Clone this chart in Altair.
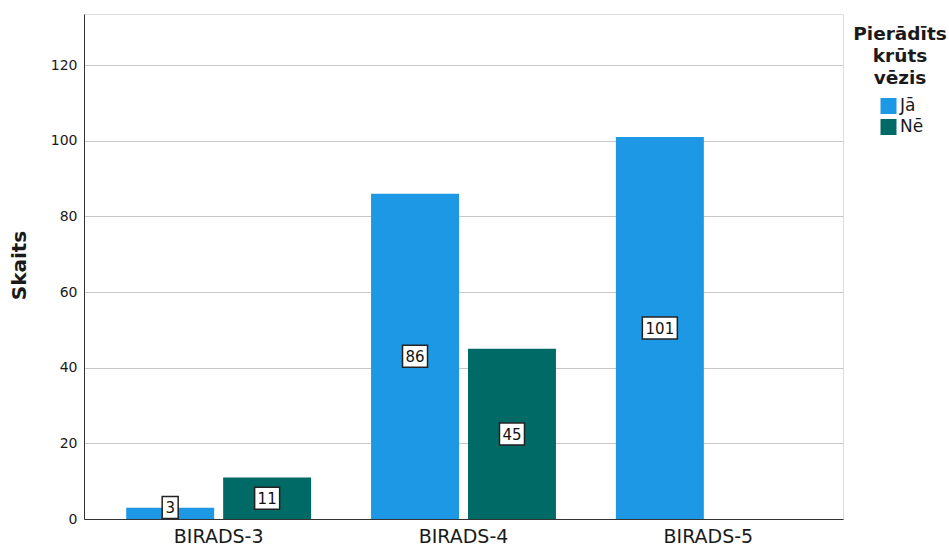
import altair as alt
import pandas as pd

# Counts of confirmed / not confirmed breast cancer by BI-RADS category
categories = ["BIRADS-3", "BIRADS-4", "BIRADS-5"]
confirmed_yes = [3, 86, 101]
confirmed_no = [11, 45, 0]
groups = ["Jā", "Nē"]
colors = ["#1D98E4", "#006A66"]
y_ticks = [0, 20, 40, 60, 80, 100, 120]

rows = []
for cat, yes, no in zip(categories, confirmed_yes, confirmed_no):
    rows.append({"kategorija": cat, "grupa": groups[0], "skaits": yes})
    rows.append({"kategorija": cat, "grupa": groups[1], "skaits": no})
df = pd.DataFrame(rows)

FONT = "DejaVu Sans"

x_enc = alt.X(
    "kategorija:N",
    sort=categories,
    scale=alt.Scale(paddingInner=0, paddingOuter=0.05),
    axis=alt.Axis(
        title=None, labelAngle=0, labelFontSize=19, labelPadding=8,
        ticks=False, domainColor="#333333", labelColor="#1a1a1a", labelFont=FONT,
    ),
)
xoff_enc = alt.XOffset(
    "grupa:N", sort=groups,
    scale=alt.Scale(paddingInner=0.0928, paddingOuter=0.309),
)
y_scale = alt.Scale(domain=[0, 133.5], nice=False)

bars = alt.Chart(df).mark_bar().encode(
    x=x_enc,
    xOffset=xoff_enc,
    y=alt.Y(
        "skaits:Q",
        scale=y_scale,
        axis=alt.Axis(
            title="Skaits", values=y_ticks, ticks=False, labelFontSize=14,
            labelPadding=7, labelColor="#1a1a1a", labelFont=FONT,
            gridColor="#c8c8c8", gridWidth=1, domainColor="#333333",
            titleFont=FONT, titleFontSize=20, titleFontWeight="bold",
            titleAngle=-90, titleX=-65, titleY=251, titleAlign="center",
            titleBaseline="middle", titleColor="#1a1a1a",
        ),
    ),
    color=alt.Color(
        "grupa:N", sort=groups,
        scale=alt.Scale(domain=groups, range=colors),
        legend=alt.Legend(
            title=["Pierādīts", "krūts", "vēzis"],
            orient="none", legendX=769, legendY=11,
            titleFont=FONT, titleFontSize=18.5, titleFontWeight="bold",
            titleLineHeight=22, titleAlign="center", titleAnchor="middle",
            titleColor="#1a1a1a", titlePadding=10,
            symbolType="square", symbolSize=256, symbolStrokeWidth=0,
            symbolOffset=3,
            labelFont=FONT, labelFontSize=17, labelColor="#1a1a1a",
            labelOffset=3, rowPadding=3,
        ),
    ),
)

labels_base = alt.Chart(df).transform_filter(
    alt.datum.skaits > 0
).transform_calculate(
    teksts="toString(datum.skaits)",
    garums="'n' + length(toString(datum.skaits))",
    vidus="max(datum.skaits / 2, 3.05)",
)

boxes = labels_base.mark_point(
    filled=True, fill="white", stroke="#222222", strokeWidth=1.5, opacity=1, size=484,
).encode(
    x=alt.X("kategorija:N", sort=categories),
    xOffset=alt.XOffset("grupa:N", sort=groups),
    y=alt.Y("vidus:Q", scale=y_scale),
    shape=alt.Shape(
        "garums:N",
        scale=alt.Scale(
            domain=["n1", "n2", "n3"],
            range=[
                "M-0.727,-1H0.727V1H-0.727Z",
                "M-1.136,-1H1.136V1H-1.136Z",
                "M-1.59,-1H1.59V1H-1.59Z",
            ],
        ),
        legend=None,
    ),
)

texts = labels_base.mark_text(
    font=FONT, fontSize=15, color="#111111", baseline="middle", align="center", dy=1,
).encode(
    x=alt.X("kategorija:N", sort=categories),
    xOffset=alt.XOffset("grupa:N", sort=groups),
    y=alt.Y("vidus:Q", scale=y_scale),
    text="teksts:N",
)

chart = alt.layer(bars, boxes, texts).properties(
    width=759,
    height=505,
    autosize=alt.AutoSizeParams(type="none"),
    padding={"left": 84, "top": 14, "right": 106, "bottom": 28},
).configure_view(
    stroke=None
).configure(
    background="white"
)

chart.save("out.html", embed_options={"renderer": "svg", "actions": False})
